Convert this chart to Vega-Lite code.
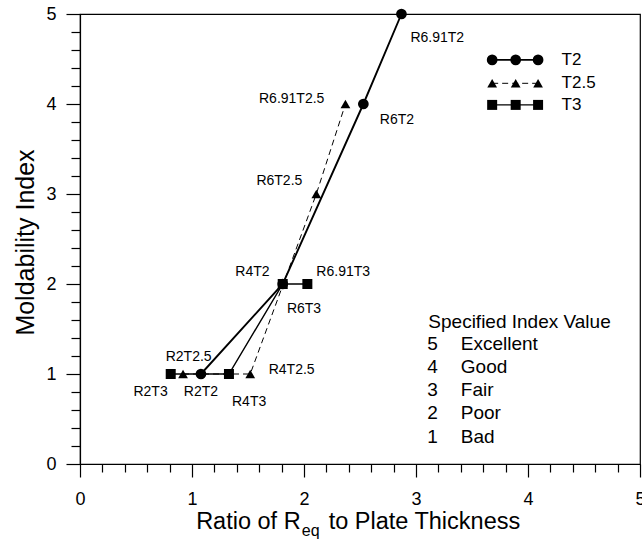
{
  "$schema": "https://vega.github.io/schema/vega-lite/v6.json",
  "width": 560,
  "height": 450,
  "autosize": {"type": "none"},
  "padding": {"left": 80, "top": 14, "right": 2, "bottom": 79},
  "background": "white",
  "config": {
    "font": "Liberation Sans",
    "view": {"stroke": "black", "strokeWidth": 1.2},
    "axis": {"domainColor": "black", "tickColor": "black", "labelColor": "black", "titleColor": "black", "grid": false, "domainWidth": 1.2, "tickWidth": 1.2}
  },
  "datasets": {
    "series": [
      {"set": "data", "series": "T2", "name": "R2T2", "x": 1.08, "y": 1},
      {"set": "data", "series": "T2", "name": "R4T2", "x": 1.81, "y": 2},
      {"set": "data", "series": "T2", "name": "R6T2", "x": 2.53, "y": 4},
      {"set": "data", "series": "T2", "name": "R6.91T2", "x": 2.87, "y": 5},
      {"set": "data", "series": "T2.5", "name": "R2T2.5", "x": 0.92, "y": 1},
      {"set": "data", "series": "T2.5", "name": "R4T2.5", "x": 1.52, "y": 1},
      {"set": "data", "series": "T2.5", "name": "R6T2.5", "x": 2.11, "y": 3},
      {"set": "data", "series": "T2.5", "name": "R6.91T2.5", "x": 2.37, "y": 4},
      {"set": "data", "series": "T3", "name": "R2T3", "x": 0.81, "y": 1},
      {"set": "data", "series": "T3", "name": "R4T3", "x": 1.33, "y": 1},
      {"set": "data", "series": "T3", "name": "R6T3", "x": 1.81, "y": 2},
      {"set": "data", "series": "T3", "name": "R6.91T3", "x": 2.03, "y": 2},
      {"set": "legend", "series": "T2", "name": "", "x": 3.68, "y": 4.49},
      {"set": "legend", "series": "T2", "name": "", "x": 3.89, "y": 4.49},
      {"set": "legend", "series": "T2", "name": "", "x": 4.09, "y": 4.49},
      {"set": "legend", "series": "T2.5", "name": "", "x": 3.68, "y": 4.23},
      {"set": "legend", "series": "T2.5", "name": "", "x": 3.89, "y": 4.23},
      {"set": "legend", "series": "T2.5", "name": "", "x": 4.09, "y": 4.23},
      {"set": "legend", "series": "T3", "name": "", "x": 3.68, "y": 3.99},
      {"set": "legend", "series": "T3", "name": "", "x": 3.89, "y": 3.99},
      {"set": "legend", "series": "T3", "name": "", "x": 4.09, "y": 3.99}
    ],
    "labels": [
      {"label": "R6.91T2", "lx": 3.19, "ly": 4.73},
      {"label": "R6.91T2.5", "lx": 1.89, "ly": 4.06},
      {"label": "R6T2", "lx": 2.83, "ly": 3.82},
      {"label": "R6T2.5", "lx": 1.78, "ly": 3.14},
      {"label": "R4T2", "lx": 1.54, "ly": 2.13},
      {"label": "R6.91T3", "lx": 2.35, "ly": 2.13},
      {"label": "R6T3", "lx": 2.0, "ly": 1.72},
      {"label": "R2T2.5", "lx": 0.97, "ly": 1.19},
      {"label": "R4T2.5", "lx": 1.89, "ly": 1.04},
      {"label": "R2T3", "lx": 0.63, "ly": 0.8},
      {"label": "R2T2", "lx": 1.08, "ly": 0.8},
      {"label": "R4T3", "lx": 1.51, "ly": 0.69}
    ],
    "legendText": [
      {"series": "T2", "x": 4.3, "y": 4.49},
      {"series": "T2.5", "x": 4.3, "y": 4.23},
      {"series": "T3", "x": 4.3, "y": 3.99}
    ],
    "index": [
      {"num": "5", "word": "Excellent", "x": 3.1, "wx": 3.4, "y": 1.33},
      {"num": "4", "word": "Good", "x": 3.1, "wx": 3.4, "y": 1.08},
      {"num": "3", "word": "Fair", "x": 3.1, "wx": 3.4, "y": 0.82},
      {"num": "2", "word": "Poor", "x": 3.1, "wx": 3.4, "y": 0.57},
      {"num": "1", "word": "Bad", "x": 3.1, "wx": 3.4, "y": 0.3}
    ]
  },
  "resolve": {"axis": {"x": "independent", "y": "independent"}},
  "layer": [
    {
      "data": {"name": "series"},
      "transform": [{"filter": "datum.series === 'T2'"}],
      "mark": {"type": "line", "color": "black", "strokeWidth": 1.9},
      "encoding": {
        "x": {"field": "x", "type": "quantitative", "scale": {"domain": [0, 5], "nice": false, "zero": false},
          "axis": {"values": [0, 1, 2, 3, 4, 5], "tickSize": 13, "labelFontSize": 18, "labelPadding": 13, "format": "d", "title": null, "orient": "bottom", "labelFlush": false}},
        "y": {"field": "y", "type": "quantitative", "scale": {"domain": [0, 5], "nice": false},
          "axis": {"values": [0, 1, 2, 3, 4, 5], "tickSize": 14, "labelFontSize": 18, "labelPadding": 10, "format": "d", "orient": "left",
            "title": "Moldability Index", "titleFontSize": 25, "titleFontWeight": "normal", "titleAngle": 270, "titleX": -47, "titleY": 228, "titleBaseline": "alphabetic", "titleAlign": "center"}},
        "detail": {"field": "set"}
      }
    },
    {
      "data": {"name": "series"},
      "transform": [{"filter": "datum.series === 'T2'"}],
      "mark": {"type": "point", "shape": "circle", "filled": true, "color": "black", "opacity": 1, "size": 115},
      "encoding": {
        "x": {"field": "x", "type": "quantitative", "scale": {"domain": [0, 5], "nice": false, "zero": false},
          "axis": {"values": [0.2, 0.4, 0.6, 0.8, 1.2, 1.4, 1.6, 1.8, 2.2, 2.4, 2.6, 2.8, 3.2, 3.4, 3.6, 3.8, 4.2, 4.4, 4.6, 4.8], "tickSize": 8, "labels": false, "domain": false, "title": null, "orient": "bottom"}},
        "y": {"field": "y", "type": "quantitative", "scale": {"domain": [0, 5], "nice": false},
          "axis": {"values": [0.2, 0.4, 0.6, 0.8, 1.2, 1.4, 1.6, 1.8, 2.2, 2.4, 2.6, 2.8, 3.2, 3.4, 3.6, 3.8, 4.2, 4.4, 4.6, 4.8], "tickSize": 9, "labels": false, "domain": false, "title": null, "orient": "left"}}
      }
    },
    {
      "data": {"name": "series"},
      "transform": [{"filter": "datum.series === 'T2.5'"}],
      "mark": {"type": "line", "color": "black", "strokeWidth": 1, "strokeDash": [6, 4]},
      "encoding": {
        "x": {"field": "x", "type": "quantitative", "axis": null},
        "y": {"field": "y", "type": "quantitative", "axis": null},
        "detail": {"field": "set"}
      }
    },
    {
      "data": {"name": "series"},
      "transform": [{"filter": "datum.series === 'T2.5'"}],
      "mark": {"type": "point", "shape": "triangle-up", "filled": true, "color": "black", "opacity": 1, "size": 95},
      "encoding": {
        "x": {"field": "x", "type": "quantitative", "axis": null},
        "y": {"field": "y", "type": "quantitative", "axis": null}
      }
    },
    {
      "data": {"name": "series"},
      "transform": [{"filter": "datum.series === 'T3'"}],
      "mark": {"type": "line", "color": "black", "strokeWidth": 1.4},
      "encoding": {
        "x": {"field": "x", "type": "quantitative", "axis": null},
        "y": {"field": "y", "type": "quantitative", "axis": null},
        "detail": {"field": "set"}
      }
    },
    {
      "data": {"name": "series"},
      "transform": [{"filter": "datum.series === 'T3'"}],
      "mark": {"type": "point", "shape": "square", "filled": true, "color": "black", "opacity": 1, "size": 100},
      "encoding": {
        "x": {"field": "x", "type": "quantitative", "axis": null},
        "y": {"field": "y", "type": "quantitative", "axis": null}
      }
    },
    {
      "data": {"name": "labels"},
      "mark": {"type": "text", "fontSize": 14, "color": "black", "align": "center", "baseline": "middle"},
      "encoding": {
        "x": {"field": "lx", "type": "quantitative", "axis": null},
        "y": {"field": "ly", "type": "quantitative", "axis": null},
        "text": {"field": "label"}
      }
    },
    {
      "data": {"name": "legendText"},
      "mark": {"type": "text", "fontSize": 17, "color": "black", "align": "left", "baseline": "middle"},
      "encoding": {
        "x": {"field": "x", "type": "quantitative", "axis": null},
        "y": {"field": "y", "type": "quantitative", "axis": null},
        "text": {"field": "series"}
      }
    },
    {
      "data": {"values": [{"t": "Specified Index Value", "x": 3.11, "y": 1.58}]},
      "mark": {"type": "text", "fontSize": 19, "color": "black", "align": "left", "baseline": "middle"},
      "encoding": {
        "x": {"field": "x", "type": "quantitative", "axis": null},
        "y": {"field": "y", "type": "quantitative", "axis": null},
        "text": {"field": "t"}
      }
    },
    {
      "data": {"name": "index"},
      "mark": {"type": "text", "fontSize": 19, "color": "black", "align": "left", "baseline": "middle"},
      "encoding": {
        "x": {"field": "x", "type": "quantitative", "axis": null},
        "y": {"field": "y", "type": "quantitative", "axis": null},
        "text": {"field": "num"}
      }
    },
    {
      "data": {"name": "index"},
      "mark": {"type": "text", "fontSize": 19, "color": "black", "align": "left", "baseline": "middle"},
      "encoding": {
        "x": {"field": "wx", "type": "quantitative", "axis": null},
        "y": {"field": "y", "type": "quantitative", "axis": null},
        "text": {"field": "word"}
      }
    },
    {
      "data": {"values": [{"t": "Ratio of R", "x": 1.97, "y": -0.72}]},
      "mark": {"type": "text", "fontSize": 23.5, "color": "black", "align": "right", "baseline": "alphabetic"},
      "encoding": {
        "x": {"field": "x", "type": "quantitative", "axis": null},
        "y": {"field": "y", "type": "quantitative", "axis": null},
        "text": {"field": "t"}
      }
    },
    {
      "data": {"values": [{"t": "eq", "x": 1.98, "y": -0.8}]},
      "mark": {"type": "text", "fontSize": 16, "color": "black", "align": "left", "baseline": "alphabetic"},
      "encoding": {
        "x": {"field": "x", "type": "quantitative", "axis": null},
        "y": {"field": "y", "type": "quantitative", "axis": null},
        "text": {"field": "t"}
      }
    },
    {
      "data": {"values": [{"t": "to Plate Thickness", "x": 2.22, "y": -0.72}]},
      "mark": {"type": "text", "fontSize": 23.5, "color": "black", "align": "left", "baseline": "alphabetic"},
      "encoding": {
        "x": {"field": "x", "type": "quantitative", "axis": null},
        "y": {"field": "y", "type": "quantitative", "axis": null},
        "text": {"field": "t"}
      }
    }
  ]
}
